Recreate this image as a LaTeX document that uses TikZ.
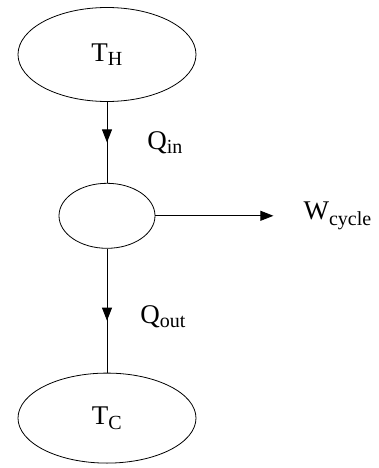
\documentclass[tikz,border=0pt]{standalone}
\usepackage{fontspec}
\setmainfont{Liberation Serif}
\usetikzlibrary{shapes.geometric, arrows.meta, positioning, decorations.markings}
\newcommand{\subtxt}[1]{\textsubscript{\fontsize{20}{22}\selectfont #1}}

\begin{document}
\begin{tikzpicture}[x=1pt, y=-1pt, node distance=80pt,
    reservoir/.style={ellipse, draw, line width=0.8pt, inner sep=0pt, minimum width=178pt, minimum height=94pt, font=\fontsize{27}{30}\selectfont},
    engine/.style={ellipse, draw, line width=0.8pt, inner sep=0pt, minimum width=96pt, minimum height=65pt},
    lbl/.style={inner sep=0pt, font=\fontsize{27}{30}\selectfont},
    heat/.style={line width=0.8pt, postaction={decorate}, decoration={markings, mark=at position #1 with {\arrow{Triangle[length=13pt, width=10pt]}}}},
    heat/.default=0.5,
    work/.style={line width=0.8pt, -{Triangle[length=13pt, width=10pt]}}]

    \useasboundingbox (0,0) rectangle (378,468);

    \node (th) [reservoir] at (107,54.5) {T\subtxt{H}};
    \node (eng) [engine, below=81pt of th] {};
    \node (tc) [reservoir, minimum height=90pt, below=124pt of eng] {T\subtxt{C}};
    \coordinate [right=118pt of eng.east] (wend);
    \node (wc) [lbl, right=30pt of wend] {W\subtxt{cycle}};

    \draw [heat] (th) -- node[lbl, right=40pt] {Q\subtxt{in}} (eng);
    \draw [heat=0.58] (eng) -- node[lbl, right=33pt, pos=0.55] {Q\subtxt{out}} (tc);
    \draw [work] (eng) -- (wend);

\end{tikzpicture}
\end{document}
